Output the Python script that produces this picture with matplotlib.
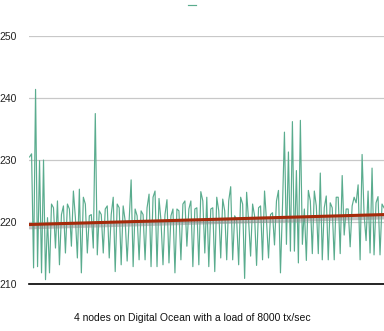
import matplotlib
matplotlib.use("Agg")
import matplotlib.pyplot as plt
import matplotlib.patheffects as pe
import numpy as np

# samples
latency = [
    230.5, 231.0, 212.6, 241.4, 212.8, 229.9, 211.8, 230.0, 210.7, 220.7,
    211.8, 222.9, 222.3, 215.8, 223.4, 213.1, 221.2, 222.6, 215.0, 222.9,
    222.1, 216.1, 225.0, 220.7, 214.2, 225.3, 211.8, 224.0, 222.9, 215.0,
    221.0, 221.2, 215.8, 237.5, 214.7, 221.8, 221.2, 215.0, 222.1, 222.6,
    214.2, 221.2, 224.0, 212.0, 222.9, 222.3, 213.1, 222.6, 220.2, 213.7,
    220.2, 226.8, 212.8, 222.1, 221.0, 213.9, 221.8, 221.2, 213.9, 222.3,
    224.5, 212.8, 224.0, 225.0, 212.8, 223.8, 220.2, 213.1, 221.2, 223.6,
    213.4, 221.0, 222.1, 211.8, 222.1, 221.8, 213.9, 222.9, 223.4, 216.1,
    222.1, 223.4, 212.8, 222.1, 222.3, 213.1, 224.9, 223.4, 215.0, 224.0,
    212.8, 222.1, 222.3, 212.0, 224.0, 221.8, 214.2, 223.7, 221.8, 213.9,
    223.4, 225.7, 213.9, 221.0, 220.4, 213.1, 224.0, 222.9, 210.9, 224.8,
    220.2, 214.5, 222.9, 221.0, 213.0, 222.3, 222.6, 213.9, 225.0, 220.2,
    214.2, 221.2, 221.5, 216.3, 223.4, 225.1, 211.8, 222.3, 234.5, 216.4,
    231.3, 215.3, 236.2, 215.3, 228.3, 213.4, 236.4, 216.4, 222.1, 213.8,
    225.1, 223.4, 214.9, 225.0, 222.6, 214.9, 227.9, 213.9, 222.3, 224.2,
    213.9, 223.1, 222.3, 213.9, 224.0, 224.0, 214.9, 227.5, 217.9, 222.1,
    222.1, 216.0, 222.6, 224.0, 223.1, 226.0, 213.9, 230.9, 221.2, 217.0,
    225.0, 215.0, 228.7, 214.7, 223.1, 224.1, 214.7, 222.9, 222.3,
]
trend_ends = [219.6, 221.2]
y_ticks = [210, 220, 230, 240, 250]
title = "4 nodes on Digital Ocean with a load of 8000 tx/sec"

plt.rcParams['font.family'] = ['Liberation Sans', 'DejaVu Sans']

fig = plt.figure(figsize=(3.84, 3.31), dpi=100)
ax = fig.add_axes([0.0755, 0.142, 0.9245, 0.749])

x = np.arange(len(latency))
line, = ax.plot(x, latency, color='#5aac8e', lw=0.85, zorder=3)
ax.plot([x[0], x[-1]], trend_ends, color='#a52a0a', lw=2.2, zorder=4,
        path_effects=[pe.SimpleLineShadow(offset=(0, -1.5), shadow_color='#888888', alpha=0.5, linewidth=4),
                      pe.Normal()])

ax.set_xlim(x[0] - 0.3, x[-1])
ax.set_ylim(210, 250)
ax.set_yticks(y_ticks)
ax.set_xticks([])
ax.tick_params(axis='y', length=0, pad=8.5, labelsize=7.5, labelcolor='#222222')
ax.grid(axis='y', color='#c8c8c8', lw=0.9, zorder=0)
for s in ['top', 'right', 'left']:
    ax.spines[s].set_visible(False)
ax.spines['bottom'].set_color('black')
ax.spines['bottom'].set_linewidth(1.2)
ax.set_axisbelow(True)

fig.legend([line], [''], loc='upper center', bbox_to_anchor=(0.5, 1.015),
           frameon=False, handlelength=0.9, handletextpad=0, fontsize=6)

fig.text(0.5, 0.038, title, ha='center', va='center', fontsize=7.5, color='#111111')

fig.savefig('out.png', dpi=100, facecolor='white')
